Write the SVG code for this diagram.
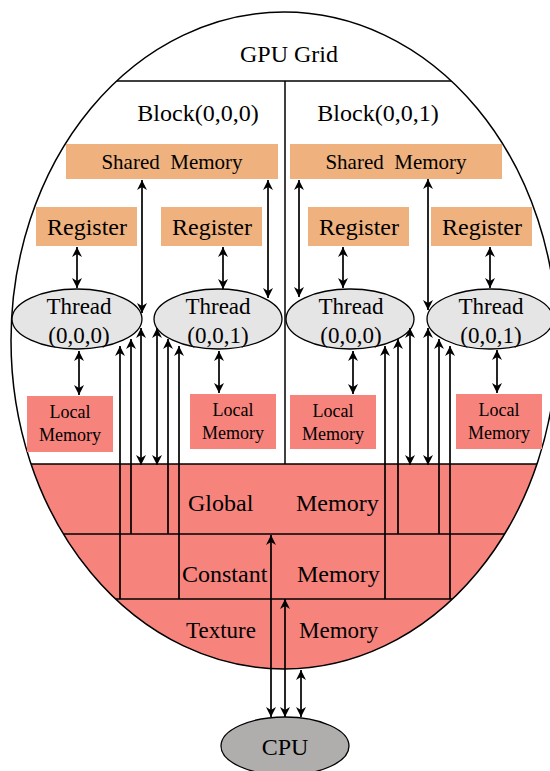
<svg xmlns="http://www.w3.org/2000/svg" width="550" height="771" viewBox="0 0 550 771">
<style>
text{font-family:"Liberation Serif","Times New Roman",serif;fill:#000}
.t24{font-size:24px}
.t23{font-size:23px}
.sm{font-size:21px}
.lm{font-size:18px}
.mid{text-anchor:middle}
.org{fill:#EFB27E}
.red{fill:#F7837D}
.thr{fill:#E5E5E5;stroke:#000;stroke-width:1.3}
.cpu{fill:#B0AEAD;stroke:#000;stroke-width:1.3}
.ln{stroke:#000;stroke-width:1.5;fill:none}
.ar{stroke:#000;stroke-width:1.7;fill:none;marker-end:url(#ah)}
.da{stroke:#000;stroke-width:1.7;fill:none;marker-start:url(#ah);marker-end:url(#ah)}
</style>
<defs>
<marker id="ah" viewBox="0 0 10 10" refX="10" refY="5" markerWidth="11" markerHeight="10" markerUnits="userSpaceOnUse" orient="auto-start-reverse">
<path d="M0,0 L10,5 L0,10 L3,5 z" fill="#000"/>
</marker>
<clipPath id="ec"><ellipse cx="284" cy="340.5" rx="273" ry="328.5"/></clipPath>
</defs>

<g id="gpu-grid">
<ellipse cx="284" cy="340.5" rx="273" ry="328.5" fill="#fff"/>
<g clip-path="url(#ec)">
<rect class="red" x="0" y="464" width="560" height="220"/>
<line class="ln" x1="0" y1="81" x2="560" y2="81"/>
<line class="ln" x1="0" y1="464" x2="560" y2="464"/>
<line class="ln" x1="0" y1="534" x2="560" y2="534"/>
<line class="ln" x1="0" y1="599" x2="560" y2="599"/>
</g>
<line class="ln" x1="285" y1="81" x2="285" y2="464"/>
<ellipse cx="284" cy="340.5" rx="273" ry="328.5" fill="none" stroke="#000" stroke-width="1.5"/>
<text class="t24 mid" x="289" y="62">GPU Grid</text>
</g>

<g id="block-000"><text class="t24 mid" x="198" y="121">Block(0,0,0)</text></g>
<g id="block-001"><text class="t24 mid" x="378" y="121">Block(0,0,1)</text></g>

<g id="shared-0"><rect class="org" x="66" y="144" width="212" height="35"/><text class="sm mid" x="172" y="169">Shared&#160; Memory</text></g>
<g id="shared-1"><rect class="org" x="290" y="144" width="212" height="35"/><text class="sm mid" x="396" y="169">Shared&#160; Memory</text></g>

<g id="register-00"><rect class="org" x="36" y="207" width="101" height="39"/><text class="t24 mid" x="87" y="235">Register</text></g>
<g id="register-01"><rect class="org" x="161" y="207" width="101" height="39"/><text class="t24 mid" x="212" y="235">Register</text></g>
<g id="register-10"><rect class="org" x="308" y="207" width="101" height="39"/><text class="t24 mid" x="359" y="235">Register</text></g>
<g id="register-11"><rect class="org" x="431" y="207" width="101" height="39"/><text class="t24 mid" x="482" y="235">Register</text></g>

<g id="thread-00"><ellipse class="thr" cx="77" cy="319" rx="65" ry="30"/><text class="t23 mid" x="79" y="314">Thread</text><text class="t23 mid" x="79" y="343">(0,0,0)</text></g>
<g id="thread-01"><ellipse class="thr" cx="218" cy="319" rx="64" ry="30"/><text class="t23 mid" x="218" y="314">Thread</text><text class="t23 mid" x="218" y="343">(0,0,1)</text></g>
<g id="thread-10"><ellipse class="thr" cx="350" cy="319" rx="64" ry="30"/><text class="t23 mid" x="351" y="314">Thread</text><text class="t23 mid" x="351" y="343">(0,0,0)</text></g>
<g id="thread-11"><ellipse class="thr" cx="490" cy="319" rx="63" ry="30"/><text class="t23 mid" x="491" y="314">Thread</text><text class="t23 mid" x="491" y="343">(0,0,1)</text></g>

<g id="local-00"><rect class="red" x="27" y="396" width="86" height="56"/><text class="lm mid" x="70" y="418">Local</text><text class="lm mid" x="70" y="441">Memory</text></g>
<g id="local-01"><rect class="red" x="190" y="394" width="86" height="55"/><text class="lm mid" x="233" y="416">Local</text><text class="lm mid" x="233" y="439">Memory</text></g>
<g id="local-10"><rect class="red" x="290" y="395" width="86" height="54"/><text class="lm mid" x="333" y="417">Local</text><text class="lm mid" x="333" y="440">Memory</text></g>
<g id="local-11"><rect class="red" x="456" y="394" width="86" height="55"/><text class="lm mid" x="499" y="416">Local</text><text class="lm mid" x="499" y="439">Memory</text></g>

<g id="global-memory"><text class="t24" x="188" y="511">Global</text><text class="t24" x="296" y="511">Memory</text></g>
<g id="constant-memory"><text class="t24" x="182" y="582">Constant</text><text class="t24" x="297" y="582">Memory</text></g>
<g id="texture-memory"><text class="t23" x="186" y="638">Texture</text><text class="t23" x="299" y="638">Memory</text></g>

<g id="cpu"><ellipse class="cpu" cx="285" cy="746" rx="64" ry="29"/><text class="t24 mid" x="285" y="755">CPU</text></g>

<g id="connectors">
<line class="da" x1="77" y1="247" x2="77" y2="288"/>
<line class="da" x1="223" y1="247" x2="223" y2="289"/>
<line class="da" x1="343" y1="247" x2="343" y2="288"/>
<line class="da" x1="490" y1="247" x2="490" y2="288"/>
<line class="da" x1="79" y1="351" x2="79" y2="395"/>
<line class="da" x1="219" y1="351" x2="219" y2="393"/>
<line class="da" x1="353" y1="351" x2="353" y2="394"/>
<line class="da" x1="497" y1="350" x2="497" y2="393"/>
<line class="da" x1="142" y1="180" x2="142" y2="313"/>
<line class="da" x1="268" y1="180" x2="268" y2="298"/>
<line class="da" x1="299" y1="180" x2="299" y2="297"/>
<line class="da" x1="428" y1="179" x2="428" y2="310"/>
<line class="da" x1="141" y1="328" x2="141" y2="465"/>
<line class="da" x1="157" y1="328" x2="157" y2="465"/>
<line class="da" x1="410" y1="328" x2="410" y2="465"/>
<line class="da" x1="428" y1="328" x2="428" y2="465"/>
<line class="ar" x1="120" y1="599" x2="120" y2="346"/>
<line class="ar" x1="131" y1="534" x2="131" y2="339"/>
<line class="ar" x1="168" y1="534" x2="168" y2="339"/>
<line class="ar" x1="179" y1="599" x2="179" y2="346"/>
<line class="ar" x1="385" y1="599" x2="385" y2="346"/>
<line class="ar" x1="398" y1="534" x2="398" y2="339"/>
<line class="ar" x1="439" y1="534" x2="439" y2="339"/>
<line class="ar" x1="450" y1="599" x2="450" y2="346"/>
<line class="da" x1="271" y1="535" x2="271" y2="717"/>
<line class="da" x1="285" y1="599" x2="285" y2="717"/>
<line class="da" x1="301" y1="670" x2="301" y2="717"/>
</g>
</svg>
